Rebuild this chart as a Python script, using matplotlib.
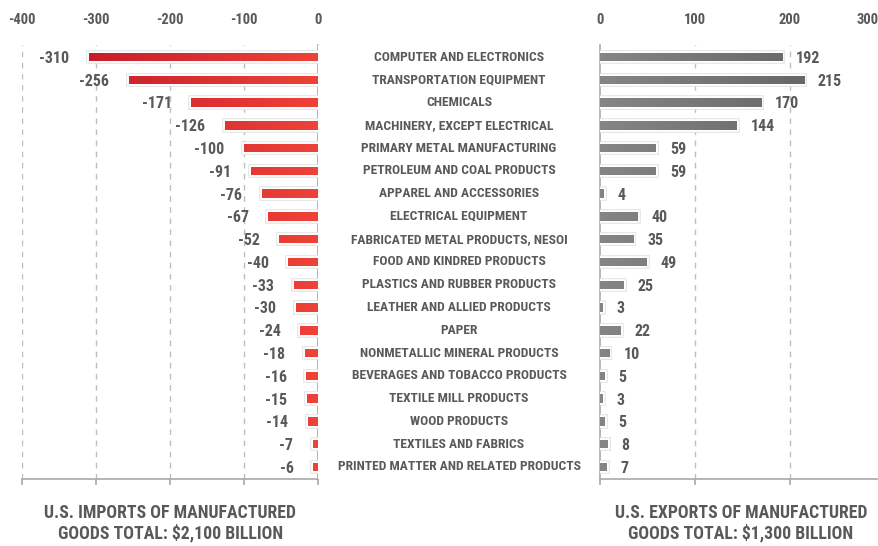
import matplotlib
matplotlib.use("Agg")
import numpy as np
import matplotlib.pyplot as plt
import matplotlib.patheffects as pe
from matplotlib.colors import LinearSegmentedColormap

categories = [
    "COMPUTER AND ELECTRONICS", "TRANSPORTATION EQUIPMENT", "CHEMICALS",
    "MACHINERY, EXCEPT ELECTRICAL", "PRIMARY METAL MANUFACTURING",
    "PETROLEUM AND COAL PRODUCTS", "APPAREL AND ACCESSORIES",
    "ELECTRICAL EQUIPMENT", "FABRICATED METAL PRODUCTS, NESOI",
    "FOOD AND KINDRED PRODUCTS", "PLASTICS AND RUBBER PRODUCTS",
    "LEATHER AND ALLIED PRODUCTS", "PAPER", "NONMETALLIC MINERAL PRODUCTS",
    "BEVERAGES AND TOBACCO PRODUCTS", "TEXTILE MILL PRODUCTS",
    "WOOD PRODUCTS", "TEXTILES AND FABRICS", "PRINTED MATTER AND RELATED PRODUCTS",
]
imports = [-310, -256, -171, -126, -100, -91, -76, -67, -52, -40,
           -33, -30, -24, -18, -16, -15, -14, -7, -6]
exports = [192, 215, 170, 144, 59, 59, 4, 40, 35, 49,
           25, 3, 22, 10, 5, 3, 5, 8, 7]
import_ticks = [-400, -300, -200, -100, 0]
export_ticks = [0, 100, 200]
import_title = "U.S. IMPORTS OF MANUFACTURED\nGOODS TOTAL: $2,100 BILLION"
export_title = "U.S. EXPORTS OF MANUFACTURED\nGOODS TOTAL: $1,300 BILLION"

plt.rcParams["font.family"] = ["Roboto Condensed", "DejaVu Sans"]
plt.rcParams["font.weight"] = "bold"
plt.rcParams["axes.unicode_minus"] = False

txt = "#58595b"
axis_c = "#a7a9ac"
grid_c = "#bcbec0"
reds = LinearSegmentedColormap.from_list("reds", ["#c71f2a", "#ef4238"])
greys = LinearSegmentedColormap.from_list("greys", ["#858588", "#68686b"])

fig = plt.figure(figsize=(8.79, 5.46), dpi=100)
ax1 = fig.add_axes([0.025, 0.1227, 0.3367, 0.795])
axm = fig.add_axes([0.3618, 0.1227, 0.3208, 0.795])
ax2 = fig.add_axes([0.6826, 0.1227, 0.3174, 0.795])

y = np.arange(len(categories))
outline = [pe.Stroke(linewidth=4, foreground="#e2e2e2"),
           pe.Stroke(linewidth=2.6, foreground="white"), pe.Normal()]

b1 = ax1.barh(y, imports, height=0.37, color="#e2353a", linewidth=0, zorder=3)
b2 = ax2.barh(y, exports, height=0.37, color="#747578", linewidth=0, zorder=3)

# gradient fill clipped to each bar
grad = np.linspace(0, 1, 256).reshape(1, -1)
for ax, bars, cm, lo, hi in [(ax1, b1, reds, min(imports), 0),
                             (ax2, b2, greys, 0, max(exports))]:
    for b in bars:
        b.set_path_effects(outline)
        y0 = b.get_y()
        im = ax.imshow(grad, extent=[lo, hi, y0, y0 + b.get_height()], cmap=cm,
                       aspect="auto", zorder=3.5, interpolation="bilinear")
        im.set_clip_path(b)

for i, v in enumerate(imports):
    ax1.annotate(str(v), (v, i), xytext=(-14, -1), textcoords="offset points",
                 ha="right", va="center", fontsize=11.5, color=txt)
for i, v in enumerate(exports):
    ax2.annotate(str(v), (v, i), xytext=(10, -1), textcoords="offset points",
                 ha="left", va="center", fontsize=11.5, color=txt)
for i, c in enumerate(categories):
    axm.text(0.5, i, c, ha="center", va="center", fontsize=9.7, color=txt)

for ax in (ax1, axm, ax2):
    ax.set_ylim(len(categories) - 0.47, -0.53)
    ax.set_yticks([])
    for s in ax.spines.values():
        s.set_visible(False)

axm.set_xlim(0, 1)
axm.set_xticks([])

ax1.set_xlim(-400, 0)
ax1.set_xticks(import_ticks)
ax2.set_xlim(0, 294)
ax2.set_xticks(export_ticks)

for ax in (ax1, ax2):
    ax.tick_params(axis="x", bottom=True, top=False, labelbottom=False,
                   labeltop=True, length=4, width=1.2, color=axis_c,
                   pad=9, labelsize=10.5, labelcolor=txt)
    ax.spines["bottom"].set_visible(True)
    ax.spines["bottom"].set_color(axis_c)
    ax.spines["bottom"].set_linewidth(1.2)

ax1.spines["right"].set_visible(True)
ax1.spines["right"].set_color(axis_c)
ax1.spines["right"].set_linewidth(1.2)
ax2.spines["left"].set_visible(True)
ax2.spines["left"].set_color(axis_c)
ax2.spines["left"].set_linewidth(1.2)

for t in [-400, -300, -200, -100]:
    ax1.axvline(t, color=grid_c, lw=1, ls=(0, (4, 4)), zorder=1)
for t in [100, 200]:
    ax2.axvline(t, color=grid_c, lw=1, ls=(0, (4, 4)), zorder=1)

# the 300 label sits past the panel edge, pushed in to fit
lab = ax2.get_xticklabels()[0]
fig.canvas.draw()
ty = lab.get_window_extent().y0
ax2.annotate("300", (1.0, 0), xycoords=("axes fraction", "figure pixels"),
             xytext=(0, ty), textcoords=("offset points", "figure pixels"),
             ha="right", va="bottom", fontsize=10.5, color=txt)

fig.text(0.1935, 0.042, import_title, ha="center", va="center", fontsize=12.8,
         color=txt, linespacing=1.1)
fig.text(0.843, 0.042, export_title, ha="center", va="center", fontsize=12.8,
         color=txt, linespacing=1.1)

fig.savefig("out.png", dpi=100)
